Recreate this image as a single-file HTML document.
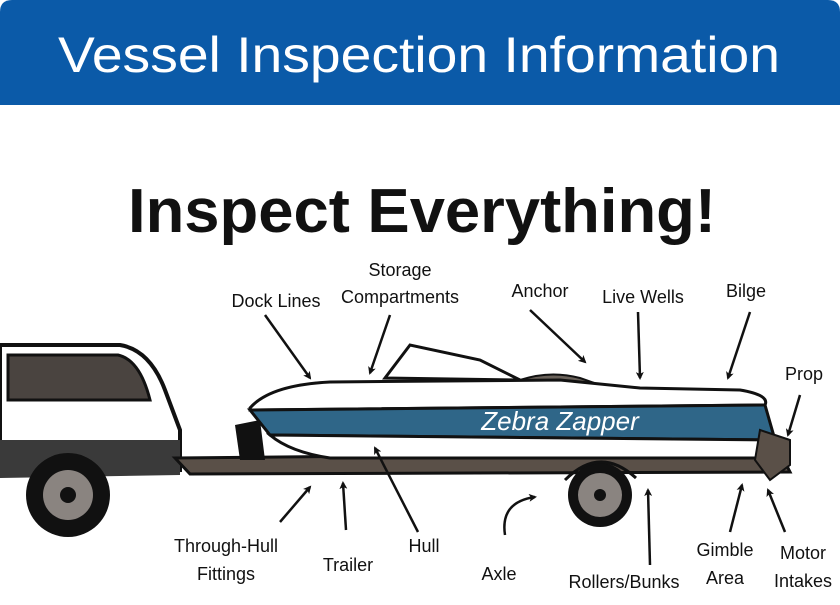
<!DOCTYPE html>
<html><head><style>
body{margin:0;width:840px;height:600px;background:#fff;overflow:hidden}
</style></head><body>
<svg width="840" height="600" viewBox="0 0 840 600" xmlns="http://www.w3.org/2000/svg" font-family="Liberation Sans, sans-serif">
<defs><marker id="a" markerWidth="8" markerHeight="8" refX="6" refY="4" orient="auto" markerUnits="userSpaceOnUse" viewBox="0 0 8 8"><path d="M0,0 L8,4 L0,8 L2,4z" fill="#111"/></marker></defs>
<path d="M0,12 Q0,0 12,0 L828,0 Q840,0 840,12 L840,105 L0,105Z" fill="#0b5aa8"/>
<text x="58" y="72" font-size="50" fill="#fff" textLength="722" lengthAdjust="spacingAndGlyphs">Vessel Inspection Information</text>
<text x="128" y="232" font-size="62" font-weight="bold" fill="#111" textLength="588" lengthAdjust="spacingAndGlyphs">Inspect Everything!</text>
<!-- car -->
<path d="M0,345 L120,345 Q150,350 165,390 L180,430 L180,470 L0,475Z" fill="#fff" stroke="#111" stroke-width="4"/>
<path d="M8,355 L118,355 Q140,360 150,400 L8,400Z" fill="#4a4440" stroke="#111" stroke-width="3"/>
<path d="M0,440 L180,440 L180,475 L0,478Z" fill="#3a3a3a"/>
<circle cx="68" cy="495" r="42" fill="#111"/><circle cx="68" cy="495" r="25" fill="#8a8480"/><circle cx="68" cy="495" r="8" fill="#111"/>
<!-- trailer -->
<path d="M175,458 L780,452 L790,472 L190,474Z" fill="#5a5048" stroke="#111" stroke-width="3"/>
<path d="M235,425 L260,420 L265,460 L240,460Z" fill="#111"/>
<!-- boat -->
<path d="M385,378 L410,345 L480,360 L520,380Z" fill="none" stroke="#111" stroke-width="3"/>
<path d="M520,380 Q550,370 580,378 L600,385Z" fill="#6a625a" stroke="#111" stroke-width="2"/>
<path d="M250,408 Q270,385 330,382 L560,380 L640,388 L740,390 Q770,395 765,405 L250,410Z" fill="#fff" stroke="#111" stroke-width="3"/>
<path d="M250,410 L765,405 L775,440 L270,435Z" fill="#2f6688" stroke="#111" stroke-width="3"/>
<text x="560" y="430" font-size="26" font-style="italic" fill="#fff" text-anchor="middle">Zebra Zapper</text>
<path d="M270,435 L775,440 L770,458 L330,458 Q290,452 270,435Z" fill="#fff" stroke="#111" stroke-width="3"/>
<path d="M760,430 L790,440 L790,465 L770,480 L755,460Z" fill="#5a5048" stroke="#111" stroke-width="2"/>
<circle cx="600" cy="495" r="32" fill="#111"/><circle cx="600" cy="495" r="22" fill="#8a8480"/><circle cx="600" cy="495" r="6" fill="#111"/>
<path d="M565,480 Q600,445 636,478" fill="none" stroke="#111" stroke-width="3"/>
<!-- arrows -->
<g stroke="#111" stroke-width="2.5" fill="none" marker-end="url(#a)">
<line x1="265" y1="315" x2="310" y2="378"/>
<line x1="390" y1="315" x2="370" y2="373"/>
<line x1="530" y1="310" x2="585" y2="362"/>
<line x1="638" y1="312" x2="640" y2="378"/>
<line x1="750" y1="312" x2="728" y2="378"/>
<line x1="800" y1="395" x2="788" y2="435"/>
<line x1="280" y1="522" x2="310" y2="487"/>
<line x1="346" y1="530" x2="343" y2="483"/>
<line x1="418" y1="532" x2="375" y2="448"/>
<path d="M505,535 Q500,502 535,497"/>
<line x1="650" y1="565" x2="648" y2="490"/>
<line x1="730" y1="532" x2="742" y2="485"/>
<line x1="785" y1="532" x2="768" y2="490"/>
</g>
<g font-size="18" fill="#111" text-anchor="middle">
<text x="276" y="307">Dock Lines</text>
<text x="400" y="276">Storage</text><text x="400" y="303">Compartments</text>
<text x="540" y="297">Anchor</text>
<text x="643" y="303">Live Wells</text>
<text x="746" y="297">Bilge</text>
<text x="804" y="380">Prop</text>
<text x="226" y="552">Through-Hull</text><text x="226" y="580">Fittings</text>
<text x="348" y="571">Trailer</text>
<text x="424" y="552">Hull</text>
<text x="499" y="580">Axle</text>
<text x="624" y="588">Rollers/Bunks</text>
<text x="725" y="556">Gimble</text><text x="725" y="584">Area</text>
<text x="803" y="559">Motor</text><text x="803" y="587">Intakes</text>
</g>
</svg>
</body></html>
